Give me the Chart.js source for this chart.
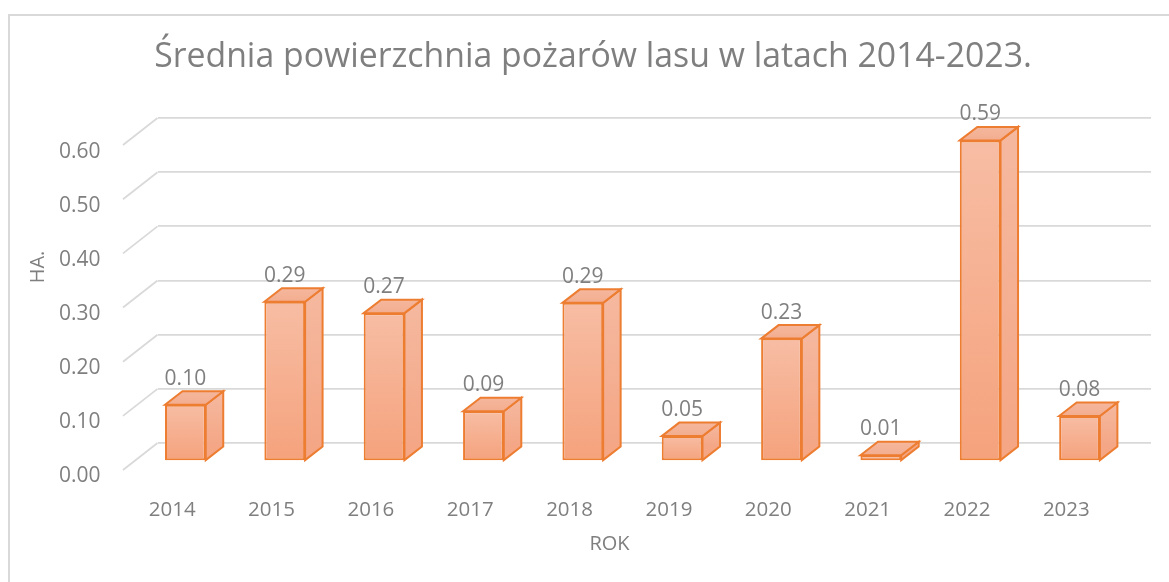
<!DOCTYPE html>
<html lang="pl"><head><meta charset="utf-8">
<style>html,body{margin:0;padding:0;background:#fff;overflow:hidden}#w{width:1169px;height:582px;position:relative}canvas{display:block}</style>
<script src="https://cdn.jsdelivr.net/npm/chart.js@4"></script></head>
<body><div id="w"><canvas id="c" width="1169" height="582"></canvas></div>
<script>
const categories=['2014','2015','2016','2017','2018','2019','2020','2021','2022','2023'];
const seriesValues=[0.104,0.294,0.273,0.092,0.292,0.046,0.226,0.0105,0.592,0.083];
const yTickValues=[0,0.1,0.2,0.3,0.4,0.5,0.6];
const chartTitle='Średnia powierzchnia pożarów lasu w latach 2014-2023.';
const xAxisTitle='ROK';
const yAxisTitle='HA.';

const FONT='"Open Sans"',GREY='#7f7f7f',GRID='#d9d9d9',EDGE='#ed7d31';
const FRONT_DX=-21.8,FRONT_DY=18,DEPTH_X=17.5,DEPTH_Y=13.5,WALL_X=34.5,WALL_Y=27;

function grad(c,y0,y1,a,b){const g=c.createLinearGradient(0,y0,0,y1);g.addColorStop(0,a);g.addColorStop(1,b);return g;}
const threeD={
 id:'threeD',
 beforeDraw(ch){const c=ch.ctx;c.save();c.strokeStyle=GRID;c.lineWidth=2;c.beginPath();c.moveTo(9,582);c.lineTo(9,15);c.lineTo(1169,15);c.stroke();c.restore();
  c.save();c.fillStyle=GREY;c.font='20px '+FONT;c.textAlign='center';c.textBaseline='middle';
  c.fillText(xAxisTitle,609.5,544.5);c.translate(38,267);c.rotate(-Math.PI/2);c.fillText(yAxisTitle,0,0);c.restore();},
 beforeDatasetsDraw(ch){const c=ch.ctx,s=ch.scales.y,a=ch.chartArea;
  c.save();c.strokeStyle=GRID;c.lineWidth=1.75;
  yTickValues.forEach(v=>{const y=s.getPixelForValue(v);c.beginPath();c.moveTo(a.left,y);c.lineTo(a.left-WALL_X,y+WALL_Y);c.stroke();});
  c.restore();
  c.save();c.translate(FRONT_DX,FRONT_DY);
  ch.getDatasetMeta(0).data.forEach(el=>{const w=el.width/2,L=el.x-w,R=el.x+w,T=el.y,B=el.base;
   c.lineWidth=2;c.strokeStyle=EDGE;c.lineJoin='miter';
   c.fillStyle=grad(c,T-DEPTH_Y,B-DEPTH_Y,'#f5b9a0','#f4a685');
   c.beginPath();c.moveTo(R,T);c.lineTo(R+DEPTH_X,T-DEPTH_Y);c.lineTo(R+DEPTH_X,B-DEPTH_Y);c.lineTo(R,B);c.closePath();c.fill();c.stroke();
   c.fillStyle=grad(c,T-DEPTH_Y,T,'#f5b79d','#f3ad8f');
   c.beginPath();c.moveTo(L,T);c.lineTo(L+DEPTH_X,T-DEPTH_Y);c.lineTo(R+DEPTH_X,T-DEPTH_Y);c.lineTo(R,T);c.closePath();c.fill();c.stroke();
  });
 },
 afterDatasetsDraw(ch){const c=ch.ctx;
  c.fillStyle=GREY;c.font='21px '+FONT;c.textAlign='center';c.textBaseline='middle';
  ch.getDatasetMeta(0).data.forEach((el,i)=>c.fillText(seriesValues[i].toFixed(2),el.x,el.y-26));
  c.restore();}
};
new Chart(document.getElementById('c'),{
 type:'bar',
 data:{labels:categories,datasets:[{data:seriesValues,
  backgroundColor(x){const ch=x.chart,s=ch.scales.y;const fb='#f5b090';if(!s||typeof x.raw!=='number')return fb;
   const y0=s.getPixelForValue(x.raw),y1=s.getPixelForValue(0);
   if(!Number.isFinite(y0)||!Number.isFinite(y1))return fb;
   return grad(ch.ctx,y0,y1,'#f7bda4','#f5a27c');},
  borderColor:EDGE,borderWidth:2,borderSkipped:false,inflateAmount:0,categoryPercentage:1,barPercentage:0.41}]},
 options:{responsive:false,animation:false,
  layout:{padding:{left:35,right:18,top:0,bottom:0}},
  plugins:{legend:{display:false},tooltip:{enabled:false},
   title:{display:true,text:chartTitle,color:GREY,font:{family:FONT,size:33.8,weight:'normal',lineHeight:1.2},padding:{top:37.5,bottom:40}}},
  scales:{
   x:{grid:{display:false,drawTicks:false},border:{display:false},
    afterFit(s){s.height=139;s.paddingLeft=0;s.paddingRight=0;},
    ticks:{color:GREY,font:{family:FONT,size:20.5},padding:55,labelOffset:-35,maxRotation:0,autoSkip:false}},
   y:{min:0,max:0.6,grid:{color:GRID,lineWidth:1.75,drawTicks:false},border:{display:false},
    afterFit(s){s.width=122.5;},
    ticks:{color:GREY,font:{family:FONT,size:21},padding:57,labelOffset:33.5,stepSize:0.1,callback:v=>v.toFixed(2)}}
  }},
 plugins:[threeD]
});
</script></body></html>
